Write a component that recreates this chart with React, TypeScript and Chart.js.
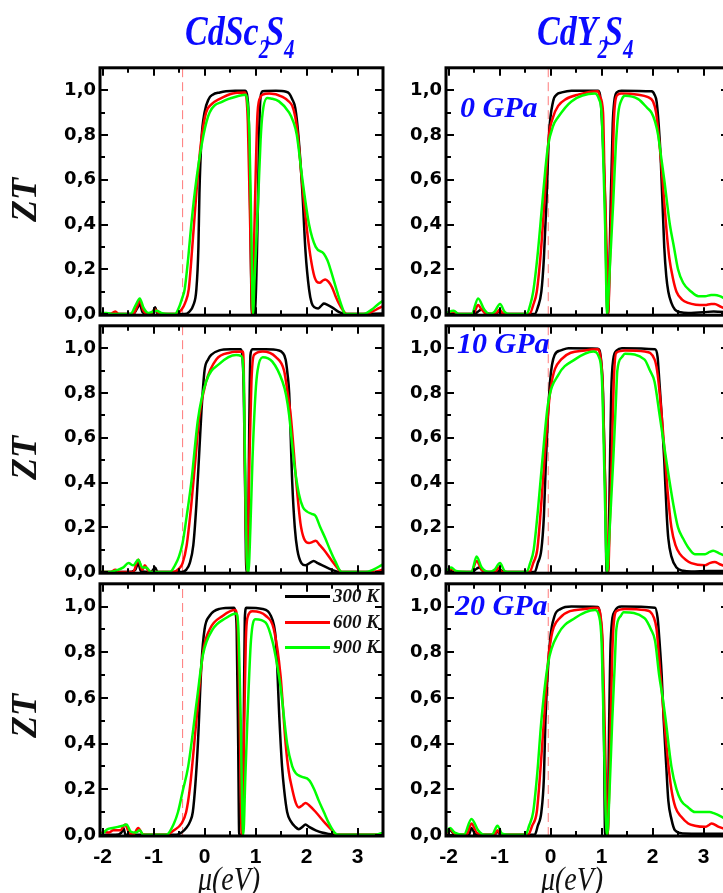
import React, { useEffect, useRef } from "react";
import { Chart, registerables } from "chart.js";

Chart.register(...registerables);

// ---------- axis values ----------
const X_MIN = -2.05;
const X_MAX = 3.5;
const Y_MIN = -0.005;
const Y_MAX = 1.1;
const X_LABEL_TICKS = [-2, -1, 0, 1, 2, 3];
const X_TICK_MARKS = [-2, -1.5, -1, -0.5, 0, 0.5, 1, 1.5, 2, 2.5, 3];
const Y_LABEL_TICKS = [0, 0.2, 0.4, 0.6, 0.8, 1.0];
const Y_TICK_MARKS = [0, 0.1, 0.2, 0.3, 0.4, 0.5, 0.6, 0.7, 0.8, 0.9, 1.0];

const TEMPS = ["300 K", "600 K", "900 K"];
const COLORS = ["#000000", "#ff0000", "#00ff00"];
const PRESSURES = ["0 GPa", "10 GPa", "20 GPa"];

// dashed reference lines (eV)
const DASH_SC = -0.43;
const DASH_Y = -0.045;

// ---------- CdSc2S4, 0 GPa ----------
const SC0_300 = [[-2.05,0],[-1.6,0],[-1.4,0],[-1.3,0.035],[-1.27,0.047],[-1.22,0.01],[-1.1,0],[-1.0,0.015],[-0.97,0.03],[-0.93,0.005],[-0.8,0],[-0.39,0],[-0.3,0.01],[-0.22,0.04],[-0.16,0.11],[-0.12,0.3],[-0.1,0.54],[-0.06,0.78],[0.0,0.9],[0.08,0.96],[0.16,0.98],[0.3,0.99],[0.42,0.995],[0.6,0.997],[0.8,0.997],[0.84,0.97],[0.87,0.85],[0.9,0.4],[0.93,0],[0.97,0],[1.0,0.05],[1.04,0.4],[1.07,0.8],[1.1,0.97],[1.14,0.995],[1.4,0.997],[1.6,0.993],[1.66,0.985],[1.72,0.96],[1.78,0.92],[1.84,0.8],[1.92,0.54],[1.98,0.28],[2.05,0.11],[2.1,0.05],[2.16,0.03],[2.23,0.025],[2.3,0.04],[2.34,0.047],[2.42,0.04],[2.5,0.03],[2.63,0.01],[2.76,0],[3.5,0.003]];
const SC0_600 = [[-2.05,0],[-1.85,0],[-1.75,0.012],[-1.68,0],[-1.4,0],[-1.32,0.035],[-1.27,0.06],[-1.2,0.015],[-1.1,0],[-1.02,0.01],[-0.97,0.02],[-0.9,0.005],[-0.8,0],[-0.55,0],[-0.45,0.02],[-0.38,0.05],[-0.31,0.11],[-0.24,0.3],[-0.16,0.54],[-0.1,0.7],[-0.05,0.8],[0.03,0.9],[0.15,0.94],[0.29,0.96],[0.55,0.985],[0.79,0.99],[0.82,0.97],[0.85,0.85],[0.89,0.45],[0.94,0],[0.96,0.2],[0.99,0.5],[1.04,0.9],[1.1,0.97],[1.14,0.98],[1.27,0.985],[1.53,0.97],[1.65,0.95],[1.72,0.93],[1.78,0.88],[1.83,0.8],[1.9,0.62],[1.95,0.5],[2.05,0.3],[2.14,0.18],[2.2,0.145],[2.26,0.14],[2.32,0.15],[2.37,0.155],[2.43,0.145],[2.5,0.12],[2.57,0.08],[2.63,0.05],[2.72,0.015],[2.79,0],[3.15,0],[3.28,0.01],[3.41,0.025],[3.5,0.035]];
const SC0_900 = [[-2.05,0.005],[-1.92,0.005],[-1.8,0],[-1.45,0],[-1.35,0.04],[-1.27,0.07],[-1.2,0.03],[-1.1,0.005],[-1.0,0.012],[-0.94,0.015],[-0.85,0.005],[-0.7,0],[-0.58,0],[-0.5,0.03],[-0.44,0.07],[-0.39,0.11],[-0.32,0.25],[-0.26,0.4],[-0.16,0.6],[-0.02,0.8],[0.1,0.9],[0.36,0.95],[0.68,0.975],[0.81,0.98],[0.84,0.95],[0.88,0.8],[0.92,0.35],[0.95,0],[0.98,0.15],[1.05,0.5],[1.1,0.78],[1.14,0.9],[1.23,0.965],[1.3,0.963],[1.46,0.95],[1.66,0.9],[1.74,0.86],[1.81,0.8],[1.92,0.6],[2.05,0.4],[2.18,0.3],[2.34,0.27],[2.41,0.24],[2.47,0.2],[2.6,0.1],[2.7,0.03],[2.76,0],[3.12,0],[3.28,0.02],[3.41,0.045],[3.5,0.06]];

// ---------- CdSc2S4, 10 GPa ----------
const SC10_300 = [[-2.05,0],[-1.5,0],[-1.36,0.01],[-1.3,0.04],[-1.25,0.005],[-1.05,0],[-0.97,0.02],[-0.92,0],[-0.45,0],[-0.36,0.01],[-0.29,0.04],[-0.22,0.12],[-0.16,0.3],[-0.1,0.55],[-0.06,0.72],[0.0,0.9],[0.07,0.95],[0.13,0.97],[0.29,0.99],[0.5,0.995],[0.71,0.995],[0.74,0.97],[0.77,0.8],[0.8,0.3],[0.82,0],[0.85,0],[0.87,0.5],[0.9,0.97],[0.94,0.995],[1.2,0.995],[1.46,0.99],[1.53,0.98],[1.59,0.95],[1.63,0.88],[1.66,0.8],[1.72,0.4],[1.77,0.2],[1.82,0.1],[1.9,0.04],[1.98,0.03],[2.06,0.04],[2.14,0.05],[2.22,0.04],[2.31,0.03],[2.5,0.01],[2.66,0],[3.5,0]];
const SC10_600 = [[-2.05,0],[-1.85,0],[-1.75,0.01],[-1.65,0],[-1.4,0],[-1.3,0.055],[-1.22,0.01],[-1.17,0.03],[-1.1,0.005],[-1.0,0],[-0.62,0],[-0.5,0.015],[-0.43,0.04],[-0.35,0.12],[-0.26,0.3],[-0.18,0.5],[-0.1,0.7],[0.03,0.85],[0.23,0.95],[0.49,0.98],[0.75,0.985],[0.77,0.9],[0.79,0.5],[0.84,0],[0.86,0.2],[0.88,0.5],[0.92,0.85],[0.97,0.97],[1.14,0.985],[1.4,0.96],[1.56,0.9],[1.63,0.8],[1.69,0.7],[1.8,0.4],[1.88,0.22],[1.95,0.15],[2.05,0.13],[2.12,0.135],[2.18,0.14],[2.26,0.12],[2.34,0.1],[2.5,0.05],[2.6,0.02],[2.69,0],[3.3,0],[3.5,0.01]];
const SC10_900 = [[-2.05,0],[-1.9,0],[-1.7,0.01],[-1.6,0.02],[-1.49,0.04],[-1.4,0.03],[-1.3,0.055],[-1.22,0.02],[-1.14,0.02],[-1.05,0],[-0.68,0],[-0.58,0.03],[-0.5,0.07],[-0.43,0.13],[-0.35,0.25],[-0.26,0.4],[-0.13,0.68],[0.03,0.85],[0.29,0.93],[0.62,0.97],[0.72,0.965],[0.77,0.85],[0.8,0.4],[0.83,0.05],[0.86,0],[0.9,0.2],[0.94,0.5],[1.0,0.8],[1.04,0.9],[1.14,0.96],[1.33,0.94],[1.53,0.85],[1.6,0.79],[1.66,0.7],[1.75,0.5],[1.85,0.35],[1.93,0.29],[2.01,0.27],[2.1,0.26],[2.18,0.25],[2.27,0.2],[2.37,0.15],[2.46,0.1],[2.56,0.05],[2.69,0],[3.15,0],[3.3,0.01],[3.5,0.035]];

// ---------- CdSc2S4, 20 GPa ----------
const SC20_300 = [[-2.05,0],[-1.75,0],[-1.63,0.01],[-1.59,0.03],[-1.55,0],[-1.3,0],[-0.55,0],[-0.45,0.01],[-0.36,0.03],[-0.28,0.06],[-0.23,0.1],[-0.18,0.22],[-0.13,0.4],[-0.06,0.75],[0,0.9],[0.1,0.96],[0.29,0.99],[0.58,0.995],[0.61,0.97],[0.63,0.9],[0.66,0.4],[0.68,0],[0.75,0],[0.77,0.5],[0.79,0.95],[0.82,0.995],[1.14,0.99],[1.24,0.98],[1.3,0.96],[1.36,0.92],[1.4,0.85],[1.47,0.5],[1.52,0.3],[1.56,0.2],[1.62,0.1],[1.69,0.06],[1.78,0.035],[1.85,0.025],[1.92,0.035],[1.98,0.045],[2.05,0.035],[2.18,0.02],[2.3,0.01],[2.44,0.004],[2.6,0],[3.5,0]];
const SC20_600 = [[-2.05,0],[-1.98,0.015],[-1.88,0.01],[-1.79,0.02],[-1.65,0.02],[-1.56,0.045],[-1.48,0.01],[-1.4,0],[-1.3,0.03],[-1.22,0.005],[-1.1,0],[-0.75,0],[-0.6,0.02],[-0.45,0.05],[-0.36,0.1],[-0.29,0.2],[-0.16,0.5],[-0.03,0.8],[0.1,0.9],[0.36,0.96],[0.6,0.985],[0.64,0.95],[0.67,0.75],[0.69,0.5],[0.73,0],[0.75,0.15],[0.78,0.5],[0.81,0.85],[0.84,0.95],[0.94,0.98],[1.2,0.96],[1.36,0.9],[1.49,0.7],[1.59,0.4],[1.65,0.28],[1.72,0.2],[1.79,0.14],[1.85,0.12],[1.92,0.13],[1.98,0.14],[2.05,0.13],[2.18,0.1],[2.37,0.05],[2.5,0.02],[2.6,0],[3.5,0]];
const SC20_900 = [[-2.05,0],[-1.98,0.01],[-1.9,0.025],[-1.8,0.03],[-1.7,0.035],[-1.6,0.04],[-1.53,0.045],[-1.45,0.015],[-1.35,0.01],[-1.27,0.02],[-1.2,0],[-0.75,0],[-0.6,0.05],[-0.52,0.1],[-0.43,0.19],[-0.32,0.3],[-0.15,0.59],[-0.03,0.79],[0.16,0.9],[0.42,0.95],[0.62,0.97],[0.66,0.92],[0.69,0.7],[0.71,0.5],[0.74,0.1],[0.76,0],[0.8,0.25],[0.84,0.5],[0.91,0.85],[1.0,0.945],[1.2,0.93],[1.33,0.85],[1.42,0.75],[1.49,0.65],[1.62,0.4],[1.72,0.3],[1.79,0.27],[1.9,0.255],[2.05,0.24],[2.15,0.2],[2.24,0.15],[2.34,0.1],[2.44,0.05],[2.55,0.01],[2.63,0],[3.35,0],[3.5,0.01]];

// ---------- CdY2S4, 0 GPa ----------
const Y0_300 = [[-2.05,0],[-1.9,0.005],[-1.8,0],[-1.5,0],[-1.4,0.015],[-1.35,0.02],[-1.28,0.005],[-1.1,0],[-1.0,0.01],[-0.9,0],[-0.31,0],[-0.25,0.03],[-0.18,0.1],[-0.13,0.25],[-0.08,0.5],[-0.03,0.8],[0.05,0.95],[0.12,0.98],[0.22,0.99],[0.41,0.998],[0.93,0.998],[0.97,0.98],[1.0,0.9],[1.04,0.7],[1.07,0.5],[1.1,0.1],[1.12,0],[1.14,0.05],[1.18,0.5],[1.22,0.85],[1.25,0.95],[1.3,0.99],[1.39,0.998],[1.98,0.995],[2.04,0.98],[2.08,0.95],[2.12,0.85],[2.16,0.7],[2.23,0.3],[2.27,0.17],[2.31,0.1],[2.37,0.05],[2.44,0.02],[2.55,0.008],[2.7,0.005],[3.0,0.008],[3.2,0.012],[3.5,0.008]];
const Y0_600 = [[-2.05,0],[-1.9,0.01],[-1.8,0],[-1.52,0],[-1.42,0.04],[-1.35,0.02],[-1.25,0],[-1.08,0],[-1.0,0.02],[-0.92,0],[-0.41,0],[-0.34,0.04],[-0.27,0.1],[-0.2,0.25],[-0.12,0.5],[-0.07,0.68],[-0.03,0.8],[0.05,0.88],[0.15,0.93],[0.3,0.96],[0.54,0.98],[0.93,0.995],[0.97,0.97],[1.03,0.9],[1.06,0.6],[1.1,0.3],[1.13,0],[1.16,0.2],[1.2,0.5],[1.24,0.85],[1.27,0.95],[1.32,0.98],[1.39,0.985],[1.72,0.98],[1.9,0.97],[2.01,0.95],[2.07,0.9],[2.12,0.8],[2.18,0.65],[2.23,0.5],[2.28,0.36],[2.33,0.25],[2.4,0.16],[2.47,0.1],[2.58,0.065],[2.7,0.05],[2.85,0.042],[3.03,0.04],[3.15,0.045],[3.22,0.045],[3.32,0.035],[3.41,0.025],[3.5,0.02]];
const Y0_900 = [[-2.05,0.005],[-1.9,0.015],[-1.8,0],[-1.55,0],[-1.42,0.07],[-1.3,0.02],[-1.2,0],[-1.1,0.01],[-0.99,0.045],[-0.9,0.01],[-0.8,0],[-0.47,0],[-0.4,0.04],[-0.34,0.1],[-0.26,0.25],[-0.16,0.5],[-0.1,0.65],[-0.05,0.75],[0.05,0.84],[0.15,0.88],[0.41,0.95],[0.87,0.985],[0.95,0.96],[1.0,0.9],[1.04,0.65],[1.07,0.4],[1.11,0],[1.15,0.15],[1.23,0.5],[1.28,0.75],[1.33,0.9],[1.4,0.96],[1.46,0.975],[1.72,0.96],[1.9,0.92],[1.98,0.9],[2.05,0.86],[2.11,0.8],[2.17,0.7],[2.23,0.6],[2.34,0.4],[2.42,0.3],[2.5,0.2],[2.6,0.14],[2.76,0.1],[2.9,0.08],[3.03,0.08],[3.15,0.085],[3.22,0.085],[3.32,0.08],[3.41,0.07],[3.5,0.06]];

// ---------- CdY2S4, 10 GPa ----------
const Y10_300 = [[-2.05,0],[-1.95,0.005],[-1.85,0],[-1.55,0],[-1.45,0.015],[-1.4,0.02],[-1.3,0],[-1.05,0],[-0.99,0.01],[-0.92,0],[-0.31,0],[-0.25,0.04],[-0.18,0.1],[-0.13,0.25],[-0.09,0.5],[-0.01,0.85],[0.08,0.97],[0.2,0.99],[0.35,1.0],[0.93,0.998],[0.99,0.95],[1.03,0.8],[1.07,0.4],[1.1,0],[1.13,0],[1.16,0.4],[1.19,0.8],[1.23,0.95],[1.3,0.99],[1.4,1.0],[2.05,0.995],[2.1,0.96],[2.12,0.9],[2.18,0.7],[2.23,0.5],[2.28,0.25],[2.31,0.15],[2.37,0.07],[2.47,0.02],[2.6,0.006],[2.76,0.003],[3.1,0.005],[3.5,0.005]];
const Y10_600 = [[-2.05,0],[-1.95,0.015],[-1.85,0],[-1.55,0],[-1.45,0.05],[-1.35,0.01],[-1.25,0],[-1.08,0],[-1.02,0.02],[-0.95,0],[-0.41,0],[-0.34,0.04],[-0.26,0.1],[-0.19,0.28],[-0.12,0.5],[-0.01,0.8],[0.21,0.95],[0.67,0.99],[0.93,0.995],[0.98,0.96],[1.02,0.85],[1.06,0.5],[1.1,0.15],[1.13,0],[1.16,0.2],[1.2,0.5],[1.24,0.85],[1.29,0.98],[1.46,0.99],[1.85,0.985],[2.04,0.95],[2.09,0.9],[2.14,0.8],[2.25,0.5],[2.3,0.35],[2.37,0.2],[2.45,0.12],[2.54,0.08],[2.65,0.055],[2.76,0.04],[3.03,0.03],[3.12,0.04],[3.22,0.045],[3.32,0.035],[3.5,0.02]];
const Y10_900 = [[-2.05,0.005],[-1.95,0.02],[-1.85,0.005],[-1.55,0],[-1.45,0.07],[-1.35,0.02],[-1.2,0],[-1.1,0.01],[-0.99,0.04],[-0.9,0.005],[-0.8,0],[-0.47,0],[-0.4,0.04],[-0.33,0.1],[-0.25,0.27],[-0.16,0.5],[-0.05,0.75],[0.15,0.88],[0.48,0.95],[0.84,0.985],[0.95,0.96],[1.01,0.85],[1.05,0.5],[1.09,0.1],[1.11,0],[1.15,0.15],[1.23,0.5],[1.28,0.75],[1.31,0.9],[1.4,0.96],[1.46,0.975],[1.84,0.95],[1.95,0.9],[2.04,0.85],[2.14,0.7],[2.27,0.5],[2.41,0.3],[2.5,0.2],[2.6,0.15],[2.7,0.11],[2.83,0.08],[3.03,0.08],[3.12,0.09],[3.19,0.095],[3.3,0.085],[3.5,0.065]];

// ---------- CdY2S4, 20 GPa ----------
const Y20_300 = [[-2.05,0.01],[-1.97,0.02],[-1.9,0.005],[-1.8,0],[-1.6,0],[-1.55,0.03],[-1.48,0.005],[-1.35,0],[-1.1,0],[-1.04,0.015],[-0.98,0],[-0.31,0],[-0.25,0.04],[-0.18,0.1],[-0.13,0.25],[-0.1,0.5],[-0.01,0.85],[0.08,0.96],[0.2,0.99],[0.41,1.0],[0.93,0.998],[0.98,0.95],[1.02,0.8],[1.05,0.4],[1.07,0],[1.12,0],[1.15,0.5],[1.18,0.85],[1.26,0.98],[1.39,1.0],[2.05,0.995],[2.1,0.95],[2.12,0.9],[2.18,0.7],[2.22,0.5],[2.27,0.3],[2.31,0.15],[2.37,0.07],[2.44,0.02],[2.6,0.006],[3.0,0.005],[3.5,0.005]];
const Y20_600 = [[-2.05,0.005],[-1.97,0.025],[-1.88,0.005],[-1.65,0],[-1.55,0.05],[-1.45,0.01],[-1.3,0],[-1.1,0],[-1.04,0.02],[-0.97,0],[-0.44,0],[-0.36,0.04],[-0.27,0.1],[-0.2,0.28],[-0.13,0.5],[-0.03,0.8],[0.18,0.95],[0.67,0.99],[0.93,0.995],[0.98,0.96],[1.02,0.85],[1.06,0.5],[1.1,0.1],[1.12,0],[1.15,0.2],[1.18,0.5],[1.22,0.85],[1.29,0.98],[1.46,0.99],[1.85,0.985],[2.03,0.95],[2.08,0.9],[2.12,0.8],[2.23,0.5],[2.3,0.33],[2.37,0.2],[2.45,0.12],[2.56,0.08],[2.7,0.05],[2.83,0.04],[3.03,0.035],[3.12,0.045],[3.16,0.05],[3.3,0.035],[3.5,0.02]];
const Y20_900 = [[-2.05,0.01],[-1.97,0.03],[-1.88,0.01],[-1.7,0],[-1.55,0.07],[-1.42,0.02],[-1.3,0],[-1.15,0],[-1.04,0.04],[-0.95,0.005],[-0.8,0],[-0.49,0],[-0.42,0.04],[-0.34,0.1],[-0.26,0.27],[-0.18,0.5],[-0.05,0.75],[0.15,0.88],[0.48,0.95],[0.87,0.985],[0.95,0.96],[1.0,0.85],[1.04,0.5],[1.08,0.1],[1.11,0],[1.15,0.15],[1.21,0.5],[1.26,0.75],[1.29,0.9],[1.38,0.96],[1.43,0.975],[1.84,0.95],[1.97,0.9],[2.05,0.85],[2.13,0.7],[2.2,0.6],[2.26,0.5],[2.37,0.3],[2.47,0.2],[2.56,0.15],[2.7,0.12],[2.83,0.1],[3.03,0.1],[3.12,0.1],[3.2,0.095],[3.35,0.08],[3.5,0.06]];

// ---------- layout ----------
const PLOT_W = 283;
const PLOT_H = 257;
const AXIS_W = 70;
const PAD = 10;
const ROW_TOPS = [63, 321, 579];
const COL_LEFTS = [100, 446];

const SERIF = '"Liberation Serif", "Times New Roman", serif';
const BLUE = "#0a0aff";

const framePlugin = {
  id: "frameTicks",
  afterDatasetsDraw(chart: any) {
    const { ctx, chartArea: a, scales } = chart;
    const x = scales.x;
    const y = scales.y;
    ctx.save();
    ctx.strokeStyle = "#000";
    ctx.lineWidth = 2;
    ctx.beginPath();
    X_TICK_MARKS.forEach((v) => {
      const px = Math.round(x.getPixelForValue(v));
      const len = Number.isInteger(v) ? 8 : 5;
      ctx.moveTo(px, a.bottom);
      ctx.lineTo(px, a.bottom - len);
      ctx.moveTo(px, a.top);
      ctx.lineTo(px, a.top + len);
    });
    Y_TICK_MARKS.forEach((v) => {
      const py = Math.round(y.getPixelForValue(v));
      const len = Math.round(v * 10) % 2 === 0 ? 8 : 5;
      ctx.moveTo(a.left, py);
      ctx.lineTo(a.left + len, py);
      ctx.moveTo(a.right, py);
      ctx.lineTo(a.right - len, py);
    });
    ctx.stroke();
    ctx.lineWidth = 3;
    ctx.strokeRect(a.left, a.top, a.right - a.left, a.bottom - a.top);
    ctx.restore();
  },
};

type PanelProps = {
  series: number[][][];
  dash: number;
  left: number;
  top: number;
  showX: boolean;
};

function Panel({ series, dash, left, top, showX }: PanelProps) {
  const ref = useRef<HTMLCanvasElement | null>(null);
  const width = AXIS_W + PLOT_W + PAD;
  const xAxisH = showX ? 40 : 0;
  const height = PAD + PLOT_H + (showX ? xAxisH : PAD);

  useEffect(() => {
    if (!ref.current) return;
    // draw order: first dataset on top -> 900 K, 600 K, 300 K, then dashed line
    const order = [2, 1, 0];
    const datasets: any[] = order.map((i) => ({
      label: TEMPS[i],
      data: series[i].map(([xv, yv]) => ({ x: xv, y: yv })),
      borderColor: COLORS[i],
      borderWidth: 2.5,
      pointRadius: 0,
      fill: false,
      tension: 0.4,
      cubicInterpolationMode: "monotone",
    }));
    datasets.push({
      label: "ref",
      data: [
        { x: dash, y: Y_MIN },
        { x: dash, y: Y_MAX },
      ],
      borderColor: "#ff7a7a",
      borderWidth: 1,
      borderDash: [9, 5],
      pointRadius: 0,
      fill: false,
    });

    const chart = new Chart(ref.current, {
      type: "line",
      data: { datasets },
      plugins: [framePlugin],
      options: {
        responsive: false,
        maintainAspectRatio: false,
        animation: false,
        devicePixelRatio: 1,
        layout: { padding: { left: 0, right: PAD, top: PAD, bottom: showX ? 0 : PAD } },
        plugins: { legend: { display: false }, tooltip: { enabled: false }, title: { display: false } },
        scales: {
          x: {
            type: "linear",
            min: X_MIN,
            max: X_MAX,
            border: { display: false },
            grid: { display: false, drawTicks: false },
            afterBuildTicks: (s: any) => {
              s.ticks = X_LABEL_TICKS.map((v) => ({ value: v }));
            },
            afterFit: (s: any) => {
              s.height = xAxisH;
            },
            ticks: {
              display: showX,
              autoSkip: false,
              maxRotation: 0,
              padding: 9,
              color: "#000",
              font: { family: '"Liberation Sans", Arial, sans-serif', weight: "bold", size: 21 },
              callback: (v: any) => String(v),
            },
          },
          y: {
            type: "linear",
            min: Y_MIN,
            max: Y_MAX,
            border: { display: false },
            grid: { display: false, drawTicks: false },
            afterBuildTicks: (s: any) => {
              s.ticks = Y_LABEL_TICKS.map((v) => ({ value: v }));
            },
            afterFit: (s: any) => {
              s.width = AXIS_W;
            },
            ticks: {
              autoSkip: false,
              padding: 4,
              color: "#000",
              font: { family: '"DejaVu Sans", sans-serif', weight: "bold", size: 18 },
              callback: (v: any) => Number(v).toFixed(1).replace(".", ","),
            },
          },
        },
      } as any,
    });
    return () => chart.destroy();
  }, [series, dash, showX]);

  return (
    <canvas
      ref={ref}
      width={width}
      height={height}
      style={{ position: "absolute", left: left - AXIS_W, top: top - PAD, width, height }}
    />
  );
}

const PANELS = [
  { series: [SC0_300, SC0_600, SC0_900], dash: DASH_SC, col: 0, row: 0 },
  { series: [SC10_300, SC10_600, SC10_900], dash: DASH_SC, col: 0, row: 1 },
  { series: [SC20_300, SC20_600, SC20_900], dash: DASH_SC, col: 0, row: 2 },
  { series: [Y0_300, Y0_600, Y0_900], dash: DASH_Y, col: 1, row: 0 },
  { series: [Y10_300, Y10_600, Y10_900], dash: DASH_Y, col: 1, row: 1 },
  { series: [Y20_300, Y20_600, Y20_900], dash: DASH_Y, col: 1, row: 2 },
];

const PRESSURE_POS = [
  { left: 460, top: 92 },
  { left: 457, top: 328 },
  { left: 455, top: 590 },
];

function Title({ left, main, sub1, sub2 }: { left: number; main: string; sub1: string; sub2: string }) {
  return (
    <div
      style={{
        position: "absolute",
        left,
        top: 10,
        color: BLUE,
        fontFamily: SERIF,
        fontWeight: "bold",
        fontStyle: "italic",
        fontSize: 34,
        lineHeight: "34px",
        whiteSpace: "nowrap",
        transform: "scaleY(1.25)",
        transformOrigin: "left top",
      }}
    >
      {main}
      <span style={{ fontSize: 21, position: "relative", top: 10 }}>{sub1}</span>
      <span style={{ marginLeft: -4 }}>S</span>
      <span style={{ fontSize: 21, position: "relative", top: 10 }}>{sub2}</span>
    </div>
  );
}

export default function App() {
  return (
    <div
      style={{
        position: "absolute",
        left: 0,
        top: 0,
        width: 723,
        height: 893,
        overflow: "hidden",
        background: "#fff",
      }}
    >
      {PANELS.map((p, i) => (
        <Panel
          key={i}
          series={p.series}
          dash={p.dash}
          left={COL_LEFTS[p.col]}
          top={ROW_TOPS[p.row]}
          showX={p.row === 2}
        />
      ))}

      <Title left={185} main="CdSc" sub1="2" sub2="4" />
      <Title left={537} main="CdY" sub1="2" sub2="4" />

      {ROW_TOPS.map((t, i) => (
        <div
          key={"zt" + i}
          style={{
            position: "absolute",
            left: 24,
            top: t + PLOT_H / 2 + 8,
            transform: "translate(-50%, -50%) rotate(-90deg)",
            fontFamily: SERIF,
            fontWeight: "bold",
            fontStyle: "italic",
            fontSize: 36,
            lineHeight: "36px",
            color: "#111",
            whiteSpace: "nowrap",
          }}
        >
          ZT
        </div>
      ))}

      {PRESSURES.map((p, i) => (
        <div
          key={"p" + i}
          style={{
            position: "absolute",
            left: PRESSURE_POS[i].left,
            top: PRESSURE_POS[i].top,
            fontFamily: SERIF,
            fontWeight: "bold",
            fontStyle: "italic",
            fontSize: 30,
            lineHeight: "30px",
            color: BLUE,
            whiteSpace: "nowrap",
          }}
        >
          {p}
        </div>
      ))}

      {[229, 572].map((cx, i) => (
        <div
          key={"mu" + i}
          style={{
            position: "absolute",
            left: cx,
            top: 862,
            transform: "translateX(-50%) scaleY(1.2)",
            transformOrigin: "center top",
            fontFamily: SERIF,
            fontStyle: "italic",
            fontSize: 28,
            lineHeight: "28px",
            color: "#111",
            whiteSpace: "nowrap",
          }}
        >
          μ(eV)
        </div>
      ))}

      {TEMPS.map((t, i) => (
        <div key={"lg" + i}>
          <div
            style={{
              position: "absolute",
              left: 285,
              top: 595 + i * 25.5,
              width: 45,
              height: 3,
              background: COLORS[i],
            }}
          />
          <div
            style={{
              position: "absolute",
              left: 333,
              top: 586 + i * 25.5,
              fontFamily: SERIF,
              fontWeight: "bold",
              fontStyle: "italic",
              fontSize: 19,
              lineHeight: "20px",
              color: "#111",
              whiteSpace: "nowrap",
            }}
          >
            {t}
          </div>
        </div>
      ))}
    </div>
  );
}
